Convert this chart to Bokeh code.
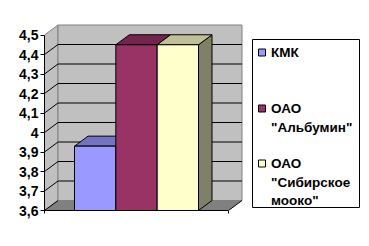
from bokeh.plotting import figure
from bokeh.models import Range1d, FixedTicker, CustomJSTickFormatter, LinearAxis
from bokeh.embed import file_html
from bokeh.resources import INLINE
from bokeh.core.properties import value

# ---- data ----
series = ["КМК", 'ОАО "Альбумин"', 'ОАО "Сибирское мооко"']
legend_lines = [["КМК"], ["ОАО", '"Альбумин"'], ["ОАО", '"Сибирское', 'мооко"']]
values = [3.93, 4.45, 4.45]
front_colors = ["#9999FF", "#993366", "#FFFFCC"]
top_colors = ["#7373BF", "#73264D", "#BFBF99"]
side_colors = ["#4D4D80", "#4D1A33", "#808066"]
y_ticks = [3.6, 3.7, 3.8, 3.9, 4.0, 4.1, 4.2, 4.3, 4.4, 4.5]
y_min, y_max = 3.6, 4.5

# ---- layout constants (pixels) ----
W, H = 369, 246
LEFT, BOTTOM = 44, 36
FRAME_W, FRAME_H = W - LEFT, H - BOTTOM
PX_PER_UNIT = 195.0
DX = 13.5                 # depth offset, x units == pixels
DY = 10.0 / PX_PER_UNIT   # depth offset in value units
FLOOR_W = 184.0
GAP = 30.0
BAR_W = (FLOOR_W - 2 * GAP) / len(values)
FONT = value("Liberation Sans")


def fy(pix):
    return y_min + (FRAME_H - pix) / PX_PER_UNIT


def fx(pix):
    return pix - LEFT


p = figure(width=W, height=H, output_backend="svg", toolbar_location=None,
           x_range=Range1d(0, FRAME_W), y_range=Range1d(y_min, fy(0)),
           min_border_left=LEFT, min_border_right=0, min_border_top=0,
           min_border_bottom=BOTTOM, x_axis_location=None, y_axis_location=None)
p.grid.visible = False
p.outline_line_color = None
p.background_fill_color = "white"
p.border_fill_color = "white"

# ---- walls and floor ----
wall_line = "#808080"
p.patch([0, 0, DX, DX], [y_min, y_max, y_max + DY, y_min + DY],
        fill_color="#C0C0C0", line_color=wall_line, line_width=1)
p.patch([DX, DX, DX + FLOOR_W, DX + FLOOR_W],
        [y_min + DY, y_max + DY, y_max + DY, y_min + DY],
        fill_color="#C0C0C0", line_color=wall_line, line_width=1)
p.patch([0, FLOOR_W, FLOOR_W + DX, DX], [y_min, y_min, y_min + DY, y_min + DY],
        fill_color="#808080", line_color=None)

gx, gy = [], []
for t in y_ticks[1:-1]:
    gx.append([0, DX, DX + FLOOR_W])
    gy.append([t, t + DY, t + DY])
p.multi_line(gx, gy, line_color="black", line_width=1)
p.multi_line([[0, DX], [FLOOR_W, FLOOR_W + DX]],
             [[y_min, y_min + DY], [y_min, y_min + DY]],
             line_color="black", line_width=1)

# ---- bars ----
for i, v in enumerate(values):
    x0 = GAP + i * BAR_W
    x1 = x0 + BAR_W
    p.patch([x1, x1, x1 + DX, x1 + DX], [y_min, v, v + DY, y_min + DY],
            fill_color=side_colors[i], line_color="black", line_width=1,
            line_join="miter")
    p.patch([x0, x1, x1 + DX, x0 + DX], [v, v, v + DY, v + DY],
            fill_color=top_colors[i], line_color="black", line_width=1,
            line_join="miter")
    p.quad(left=[x0], right=[x1], bottom=[y_min], top=[v],
           fill_color=front_colors[i], line_color="black", line_width=1,
           line_join="miter")

# ---- axes ----
yax = LinearAxis(ticker=FixedTicker(ticks=y_ticks), bounds=(y_min, y_max),
                 formatter=CustomJSTickFormatter(
                     code="return tick.toFixed(1).replace('.0','').replace('.',',');"))
yax.major_tick_out = 4
yax.major_tick_in = 0
yax.minor_tick_line_color = None
yax.axis_line_color = "black"
yax.major_tick_line_color = "black"
yax.major_label_standoff = 2
yax.major_label_text_font = "Liberation Sans"
yax.major_label_text_font_style = "bold"
yax.major_label_text_font_size = "14px"
yax.major_label_text_color = "black"
p.add_layout(yax, "left")

xax = LinearAxis(ticker=FixedTicker(ticks=[0, FLOOR_W]), bounds=(0, FLOOR_W),
                 formatter=CustomJSTickFormatter(code="return '';"))
xax.major_tick_out = 3
xax.major_tick_in = 0
xax.minor_tick_line_color = None
xax.axis_line_color = "black"
xax.major_tick_line_color = "black"
xax.major_label_text_font_size = "0px"
p.add_layout(xax, "below")

# ---- legend ----
p.quad(left=[fx(252)], right=[fx(359)], top=[fy(39)], bottom=[fy(207)],
       fill_color="white", line_color="black", line_width=1)
entry_top = [52, 108, 163]
line_step = 18.5
mx, my, tx, ty, tt = [], [], [], [], []
for i, lines in enumerate(legend_lines):
    mx.append(fx(261.5))
    my.append(fy(entry_top[i]))
    for j, ln in enumerate(lines):
        tx.append(fx(270.5))
        ty.append(fy(entry_top[i] + j * line_step))
        tt.append(ln)
half = 3.5
p.quad(left=[m - half for m in mx], right=[m + half for m in mx],
       top=[m + half / PX_PER_UNIT for m in my],
       bottom=[m - half / PX_PER_UNIT for m in my],
       fill_color=front_colors, line_color="black", line_width=1)
p.text(tx, ty, text=tt, text_font=FONT, text_font_style="bold",
       text_font_size="13.5px", text_baseline="middle", text_align="left",
       text_color="black")

open("out.html", "w").write(file_html(p, INLINE))
